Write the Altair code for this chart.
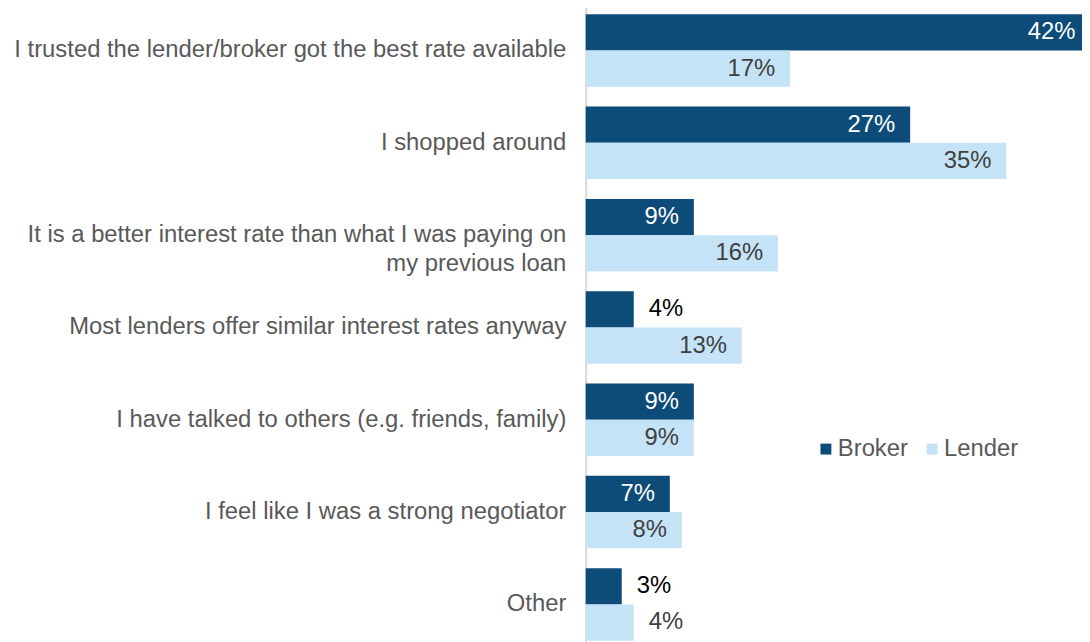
import altair as alt
import pandas as pd

categories = [
    "I trusted the lender/broker got the best rate available",
    "I shopped around",
    "It is a better interest rate than what I was paying on\nmy previous loan",
    "Most lenders offer similar interest rates anyway",
    "I have talked to others (e.g. friends, family)",
    "I feel like I was a strong negotiator",
    "Other",
]
series = ["Broker", "Lender"]
broker = [42, 27, 9, 4, 9, 7, 3]
lender = [17, 35, 16, 13, 9, 8, 4]

rows = []
for c, b, l in zip(categories, broker, lender):
    rows.append({"category": c, "series": "Broker", "value": b})
    rows.append({"category": c, "series": "Lender", "value": l})
df = pd.DataFrame(rows)

FONT = "Liberation Sans"
DARK = "#0D4B78"
LIGHT = "#C5E3F7"

y = alt.Y(
    "category:N",
    sort=categories,
    scale=alt.Scale(range=[-6, 645], paddingInner=0.215, paddingOuter=0.1075),
    axis=alt.Axis(
        title=None,
        labelFontSize=24,
        labelColor="#595959",
        labelFont=FONT,
        labelLimit=700,
        labelPadding=20,
        ticks=False,
        domainColor="#d9d9d9",
        domainWidth=2,
        labelExpr="split(datum.label, '\\n')",
        labelLineHeight=29,
    ),
)
yoff = alt.YOffset("series:N", sort=series, scale=alt.Scale(paddingInner=0, paddingOuter=0))
x = alt.X("value:Q", scale=alt.Scale(domain=[0, 41.3]), axis=None)

base = alt.Chart(df).encode(y=y, yOffset=yoff, x=x)

bars = base.mark_bar().encode(
    color=alt.Color(
        "series:N",
        sort=series,
        scale=alt.Scale(domain=series, range=[DARK, LIGHT]),
        legend=alt.Legend(
            title=None,
            orient="none",
            legendX=230,
            legendY=430,
            direction="horizontal",
            symbolType="square",
            symbolSize=121,
            symbolStrokeWidth=0,
            labelFontSize=24,
            labelColor="#595959",
            labelFont=FONT,
            columnPadding=12,
            labelOffset=0,
        ),
    )
)

inside = (
    base.transform_filter("datum.value >= 5")
    .transform_calculate(label="datum.value + '%'")
    .mark_text(align="right", dx=-15, fontSize=24, font=FONT, baseline="middle")
    .encode(
        text="label:N",
        color=alt.condition("datum.series == 'Broker'", alt.value("white"), alt.value("#404040")),
    )
)
outside = (
    base.transform_filter("datum.value < 5")
    .transform_calculate(label="datum.value + '%'")
    .mark_text(align="left", dx=15, fontSize=24, font=FONT, baseline="middle")
    .encode(
        text="label:N",
        color=alt.condition("datum.series == 'Broker'", alt.value("black"), alt.value("#404040")),
    )
)

chart = (
    alt.layer(bars, inside, outside)
    .properties(
        width=500,
        height=634,
        padding={"left": 582, "top": 0, "right": 0, "bottom": 0},
        autosize=alt.AutoSizeParams(type="none"),
    )
    .configure_view(stroke=None)
)

chart.save("out.html", embed_options={"renderer": "svg", "actions": False})
